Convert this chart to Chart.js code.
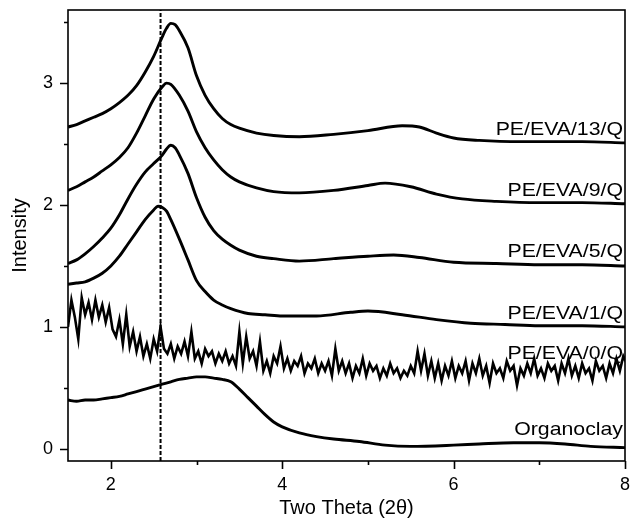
<!DOCTYPE html>
<html>
<head>
<meta charset="utf-8">
<script src="https://cdn.jsdelivr.net/npm/chart.js@4.4.1/dist/chart.umd.min.js"></script>
<style>
  body { margin: 0; background: #fff; }
  canvas { display: block; }
</style>
</head>
<body>
<canvas id="xrd-chart" width="630" height="521"></canvas>
<script>
// XRD patterns, stacked (offset) curves
const xTicks = [2, 3, 4, 5, 6, 7, 8]
const yTicks = [0, 0.5, 1, 1.5, 2, 2.5, 3, 3.5]
const dashX = 2.58

const curveLabels = ["PE/EVA/13/Q", "PE/EVA/9/Q", "PE/EVA/5/Q", "PE/EVA/1/Q", "PE/EVA/0/Q", "Organoclay"]
const labelY = [2.62, 2.12, 1.62, 1.11, 0.78, 0.16]

const eva13X = [1.5, 1.6, 1.7, 1.8, 1.9, 2.0, 2.1, 2.2, 2.3, 2.4, 2.5, 2.6, 2.65, 2.7, 2.75, 2.8, 2.9, 3.0, 3.1, 3.2, 3.3, 3.4, 3.5, 3.7, 3.9, 4.2, 4.6, 5.0, 5.4, 5.6, 5.8, 6.0, 6.3, 6.8, 7.5, 8.0]
const eva13Y = [2.64, 2.66, 2.69, 2.72, 2.75, 2.79, 2.84, 2.90, 2.98, 3.09, 3.22, 3.38, 3.45, 3.49, 3.48, 3.43, 3.29, 3.06, 2.90, 2.79, 2.71, 2.66, 2.63, 2.59, 2.57, 2.56, 2.58, 2.61, 2.65, 2.64, 2.59, 2.55, 2.53, 2.52, 2.52, 2.51]

const eva9X = [1.5, 1.6, 1.7, 1.8, 1.9, 2.0, 2.1, 2.2, 2.3, 2.4, 2.5, 2.6, 2.65, 2.7, 2.8, 2.9, 3.0, 3.1, 3.2, 3.3, 3.4, 3.5, 3.7, 3.9, 4.2, 4.6, 5.0, 5.2, 5.5, 5.8, 6.1, 6.5, 7.0, 7.5, 8.0]
const eva9Y = [2.12, 2.15, 2.19, 2.23, 2.28, 2.33, 2.39, 2.47, 2.59, 2.73, 2.87, 2.97, 3.00, 2.99, 2.90, 2.77, 2.60, 2.47, 2.37, 2.29, 2.23, 2.19, 2.14, 2.11, 2.10, 2.12, 2.16, 2.18, 2.15, 2.09, 2.05, 2.03, 2.02, 2.02, 2.01]

const eva5X = [1.5, 1.6, 1.7, 1.8, 1.9, 2.0, 2.1, 2.2, 2.3, 2.4, 2.5, 2.6, 2.65, 2.7, 2.75, 2.8, 2.9, 3.0, 3.1, 3.2, 3.3, 3.4, 3.5, 3.7, 3.9, 4.2, 4.6, 5.0, 5.3, 5.6, 6.0, 6.5, 7.0, 7.5, 8.0]
const eva5Y = [1.52, 1.55, 1.60, 1.66, 1.73, 1.81, 1.92, 2.05, 2.17, 2.27, 2.34, 2.41, 2.46, 2.49, 2.47, 2.41, 2.26, 2.06, 1.90, 1.79, 1.72, 1.67, 1.63, 1.58, 1.56, 1.54, 1.56, 1.58, 1.59, 1.57, 1.53, 1.52, 1.51, 1.51, 1.50]

const eva1X = [1.5, 1.6, 1.7, 1.8, 1.9, 2.0, 2.1, 2.2, 2.3, 2.4, 2.5, 2.55, 2.6, 2.65, 2.7, 2.8, 2.9, 3.0, 3.1, 3.2, 3.3, 3.4, 3.6, 3.8, 4.0, 4.4, 4.8, 5.0, 5.4, 5.8, 6.2, 6.6, 7.0, 7.5, 8.0]
const eva1Y = [1.35, 1.36, 1.37, 1.40, 1.44, 1.50, 1.58, 1.68, 1.78, 1.88, 1.96, 1.99, 1.98, 1.95, 1.88, 1.72, 1.55, 1.38, 1.29, 1.22, 1.18, 1.15, 1.11, 1.10, 1.09, 1.09, 1.12, 1.13, 1.10, 1.06, 1.03, 1.02, 1.01, 1.01, 1.00]

// PE/EVA/0/Q is sampled every 0.04 from 1.5
const eva0Start = 1.5
const eva0Step = 0.04
const eva0Y = [
  1.00, 1.22, 1.08, 0.90, 1.24, 1.10, 1.20, 1.06, 1.22, 1.08,
  1.18, 1.04, 1.16, 0.98, 0.92, 1.06, 0.86, 1.10, 0.84, 0.96,
  0.80, 0.92, 0.76, 0.86, 0.74, 0.90, 0.80, 1.00, 0.82, 0.78,
  0.86, 0.74, 0.84, 0.78, 0.88, 0.76, 0.96, 0.74, 0.80, 0.70,
  0.82, 0.76, 0.80, 0.70, 0.78, 0.72, 0.80, 0.70, 0.76, 0.68,
  0.96, 0.70, 0.92, 0.74, 0.80, 0.68, 0.88, 0.64, 0.72, 0.62,
  0.76, 0.70, 0.84, 0.66, 0.74, 0.64, 0.72, 0.68, 0.76, 0.62,
  0.70, 0.66, 0.74, 0.62, 0.70, 0.64, 0.72, 0.60, 0.82, 0.64,
  0.72, 0.62, 0.70, 0.58, 0.68, 0.62, 0.74, 0.60, 0.70, 0.64,
  0.68, 0.58, 0.66, 0.60, 0.70, 0.62, 0.66, 0.58, 0.64, 0.60,
  0.68, 0.62, 0.80, 0.64, 0.78, 0.60, 0.72, 0.58, 0.70, 0.56,
  0.68, 0.60, 0.72, 0.58, 0.68, 0.62, 0.72, 0.56, 0.70, 0.62,
  0.74, 0.60, 0.68, 0.54, 0.70, 0.62, 0.66, 0.58, 0.72, 0.64,
  0.68, 0.52, 0.66, 0.60, 0.70, 0.62, 0.74, 0.60, 0.66, 0.58,
  0.70, 0.64, 0.68, 0.56, 0.70, 0.62, 0.74, 0.60, 0.68, 0.58,
  0.70, 0.62, 0.66, 0.56, 0.72, 0.64, 0.68, 0.58, 0.70, 0.62,
  0.74, 0.64, 0.76, 0.70
]

const orgX = [1.5, 1.6, 1.7, 1.8, 1.9, 2.0, 2.1, 2.2, 2.3, 2.4, 2.5, 2.6, 2.7, 2.8, 2.9, 3.0, 3.1, 3.2, 3.3, 3.4, 3.5, 3.6, 3.7, 3.8, 3.9, 4.0, 4.2, 4.4, 4.6, 4.9, 5.2, 5.5, 6.0, 6.3, 6.7, 7.0, 7.3, 7.6, 8.0]
const orgY = [0.40, 0.39, 0.40, 0.40, 0.41, 0.42, 0.43, 0.45, 0.47, 0.49, 0.51, 0.53, 0.55, 0.57, 0.58, 0.59, 0.59, 0.58, 0.57, 0.55, 0.49, 0.42, 0.35, 0.28, 0.22, 0.18, 0.13, 0.10, 0.08, 0.06, 0.03, 0.02, 0.03, 0.04, 0.05, 0.05, 0.04, 0.02, 0.01]

const toPoints = (xs, ys) => ys.map((y, i) => ({ x: xs[i], y: y }))
const eva0Points = eva0Y.map((y, i) => ({ x: eva0Start + i * eva0Step, y: y }))

function curve(data, smooth) {
  return {
    data: data,
    borderColor: "#000",
    borderWidth: smooth ? 2.9 : 2.6,
    pointRadius: 0,
    fill: false,
    cubicInterpolationMode: smooth ? "monotone" : "default",
    tension: 0,
  }
}

// draws the frame, tick marks and the curve labels
const decorPlugin = {
  id: "decor",
  afterDatasetsDraw(chart) {
    const { ctx, chartArea: a, scales } = chart
    ctx.save()
    ctx.strokeStyle = "#000"
    ctx.lineWidth = 1.6
    ctx.strokeRect(a.left, a.top, a.right - a.left, a.bottom - a.top)

    ctx.beginPath()
    xTicks.forEach((v) => {
      const px = Math.round(scales.x.getPixelForValue(v)) + 0.5
      const len = v % 2 === 0 ? 8 : 4
      ctx.moveTo(px, a.bottom)
      ctx.lineTo(px, a.bottom + len)
    })
    yTicks.forEach((v) => {
      const py = Math.round(scales.y.getPixelForValue(v)) + 0.5
      const len = Number.isInteger(v) ? 8 : 4
      ctx.moveTo(a.left, py)
      ctx.lineTo(a.left - len, py)
    })
    ctx.stroke()

    ctx.fillStyle = "#000"
    ctx.font = '19px "Liberation Sans", Arial, sans-serif'
    ctx.textAlign = "right"
    ctx.textBaseline = "middle"
    const rightX = a.right - 2
    curveLabels.forEach((label, i) => {
      const py = scales.y.getPixelForValue(labelY[i])
      ctx.save()
      ctx.translate(rightX, py)
      ctx.scale(1.12, 1)
      ctx.fillText(label, 0, 0)
      ctx.restore()
    })
    ctx.restore()
  },
}

const tickFont = { family: '"Liberation Sans", Arial, sans-serif', size: 18 }
const titleFont = { family: '"Liberation Sans", Arial, sans-serif', size: 20 }

const ctx = document.getElementById("xrd-chart").getContext("2d")
new Chart(ctx, {
  type: "line",
  data: {
    datasets: [
      curve(toPoints(eva13X, eva13Y), true),
      curve(toPoints(eva9X, eva9Y), true),
      curve(toPoints(eva5X, eva5Y), true),
      curve(toPoints(eva1X, eva1Y), true),
      curve(eva0Points, false),
      curve(toPoints(orgX, orgY), true),
      {
        data: [
          { x: dashX, y: -0.1 },
          { x: dashX, y: 3.6 },
        ],
        borderColor: "#000",
        borderWidth: 2,
        borderDash: [4, 2],
        pointRadius: 0,
        fill: false,
      },
    ],
  },
  options: {
    responsive: false,
    animation: false,
    layout: { padding: { top: 10, right: 5, left: 0, bottom: 0 } },
    plugins: {
      legend: { display: false },
      tooltip: { enabled: false },
    },
    scales: {
      x: {
        type: "linear",
        min: 1.5,
        max: 8,
        afterBuildTicks: (s) => {
          s.ticks = xTicks.map((v) => ({ value: v }))
        },
        afterFit: (s) => {
          s.height = 60
          s.paddingLeft = 0
          s.paddingRight = 0
        },
        grid: { display: false, drawTicks: true, tickLength: 8 },
        border: { display: false },
        ticks: {
          color: "#000",
          padding: 5,
          maxRotation: 0,
          autoSkip: false,
          font: tickFont,
          callback: (v) => (v % 2 === 0 ? v : ""),
        },
        title: {
          display: true,
          text: "Two Theta (2θ)",
          color: "#000",
          padding: { top: 0, bottom: 1 },
          font: titleFont,
        },
      },
      y: {
        type: "linear",
        min: -0.1,
        max: 3.6,
        afterBuildTicks: (s) => {
          s.ticks = yTicks.map((v) => ({ value: v }))
        },
        afterFit: (s) => {
          s.width = 68
          s.paddingTop = 0
          s.paddingBottom = 0
        },
        grid: { display: false, drawTicks: true, tickLength: 8 },
        border: { display: false },
        ticks: {
          color: "#000",
          padding: 7,
          autoSkip: false,
          font: tickFont,
          callback: (v) => (Number.isInteger(v) ? v : ""),
        },
        title: {
          display: true,
          text: "Intensity",
          color: "#000",
          padding: { top: 8, bottom: 0 },
          font: titleFont,
        },
      },
    },
  },
  plugins: [decorPlugin],
})
</script>
</body>
</html>
